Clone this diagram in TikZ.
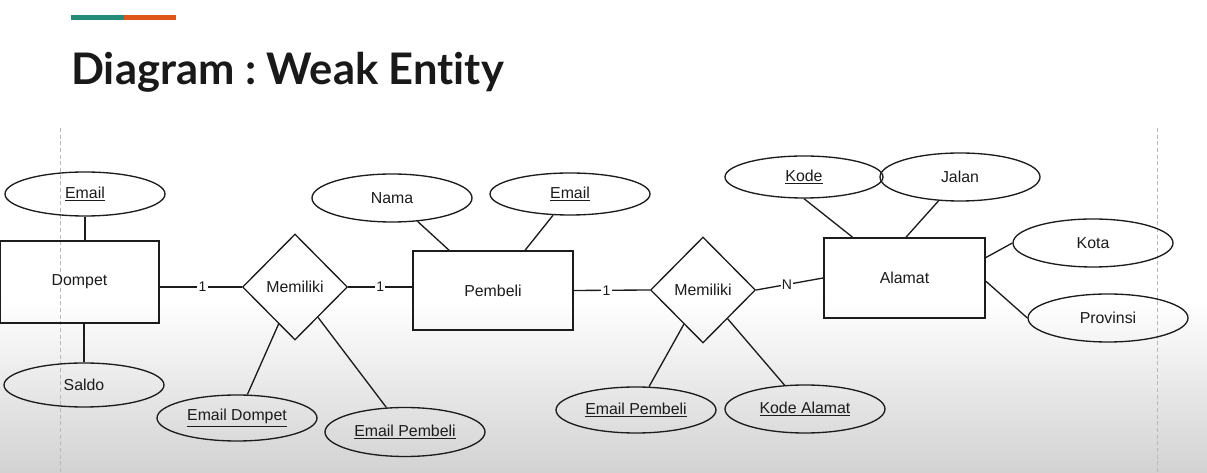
\documentclass[tikz,border=0pt]{standalone}
\usepackage{fontspec}
\setmainfont{Liberation Sans}
\newfontfamily\titlefont{Lato}[Ligatures=NoCommon]
\usetikzlibrary{shapes.geometric,calc}
\definecolor{teal1}{RGB}{38,139,118}
\definecolor{orange1}{RGB}{222,86,30}
\definecolor{ink}{RGB}{28,28,28}
\definecolor{bgbot}{RGB}{210,210,210}
\definecolor{dashc}{RGB}{185,185,185}
\frenchspacing
\begin{document}
\begin{tikzpicture}[x=0.75pt,y=-0.75pt,
  lbl/.style={font=\fontsize{11.9}{13}\selectfont,text=ink},
  attr/.style={ellipse,draw=ink,line width=1pt,inner sep=0pt,minimum width=120pt,lbl},
  ent/.style={rectangle,draw=ink,line width=1pt,inner sep=0pt,lbl},
  weakent/.style={ent,line width=1.4pt},
  rel/.style={diamond,draw=ink,line width=1pt,inner sep=0pt,minimum width=78.75pt,minimum height=79.5pt,lbl},
  conn/.style={draw=ink,line width=1pt},
  card/.style={fill=white,inner sep=1pt,font=\fontsize{10.5}{11}\selectfont,text=ink},
  guide/.style={draw=dashc,line width=0.6pt,dash pattern=on 3pt off 2pt}]
% background
\fill[white] (0,0) rectangle (1207,473);
\shade[top color=white,bottom color=bgbot] (0,300) rectangle (1207,473);
\useasboundingbox (0,0) rectangle (1207,473);
% header bar
\fill[teal1] (71,15) rectangle (124,20);
\fill[orange1] (124,15) rectangle (176,20);
% title
\node[anchor=base west,inner sep=0pt,font=\titlefont\bfseries\fontsize{32.6}{38}\selectfont,text=black!90] (title) at (71,85) {Diagram : Weak Entity};
% guides
\coordinate (gl1) at (60,128); \coordinate (gl2) at (60,473);
\coordinate (gr1) at (1157,128); \coordinate (gr2) at (1157,473);
\draw[guide] (gl1) -- (gl2);
\draw[guide] (gr1) -- (gr2);
% entities
\node[weakent,minimum width=119.25pt,minimum height=61.5pt] (dompet) at (79.5,282) {Dompet};
\node[ent,minimum width=120pt,minimum height=59.25pt] (pembeli) at (493,290.5) {Pembeli};
\node[weakent,minimum width=120.75pt,minimum height=60pt] (alamat) at (904.5,278) {Alamat};
% relationships
\node[rel] (d1) at (295,287) {Memiliki};
\node[rel] (d2) at (703,290) {Memiliki};
% attributes
\node[attr,minimum height=33pt] (emailD) at (85,194) {\underline{Email}};
\node[attr,minimum height=33pt] (saldo) at (84,385) {Saldo};
\node[attr,minimum height=36pt] (nama) at (392,198) {Nama};
\node[attr,minimum height=31.5pt] (emailP) at (570,194) {\underline{Email}};
\node[attr,minimum height=34.5pt] (emailDompet) at (237,418) {\underline{Email Dompet}};
\node[attr,minimum height=36.75pt] (emailPembeliA) at (405,432) {\underline{Email Pembeli}};
\node[attr,minimum height=34.5pt] (emailPembeliB) at (636,410) {\underline{Email Pembeli}};
\node[attr,minimum height=36pt] (kodeAlamat) at (805,409) {\underline{Kode Alamat}};
\node[attr,minimum width=118.5pt,minimum height=31.5pt] (kode) at (804,177) {\underline{Kode}};
\node[attr,minimum height=36pt] (jalan) at (960,177) {Jalan};
\node[attr,minimum height=36pt] (kota) at (1093,243) {Kota};
\node[attr,minimum height=36pt] (provinsi) at (1108,318) {Provinsi};
% connectors
\draw[conn] (emailD.south) -- (emailD.south |- dompet.north);
\draw[conn] (saldo.north) -- (saldo.north |- dompet.south);
\draw[conn] (d1.west) -- (d1.west -| dompet.east) node[card,pos=0.48]{1};
\draw[conn] (d1.east) -- (d1.east -| pembeli.west) node[card,pos=0.5]{1};
\draw[conn] (pembeli.east) -- (d2.west) node[card,pos=0.43]{1};
\draw[conn] (d2.east) -- (alamat.west) node[card,pos=0.46]{N};
\draw[conn] (nama) -- (pembeli);
\draw[conn] (emailP) -- (pembeli);
\draw[conn] (d1) -- (emailDompet);
\draw[conn] (d1) -- (emailPembeliA);
\draw[conn] (d2) -- (emailPembeliB);
\draw[conn] (d2) -- (kodeAlamat);
\draw[conn] (kode.south) -- ($(alamat.north west)!0.18!(alamat.north east)$);
\draw[conn] (jalan.228) -- ($(alamat.north west)!0.51!(alamat.north east)$);
\draw[conn] ($(alamat.north east)!0.25!(alamat.south east)$) -- (kota.west);
\draw[conn] ($(alamat.north east)!0.54!(alamat.south east)$) -- (provinsi.west);
\end{tikzpicture}
\end{document}
